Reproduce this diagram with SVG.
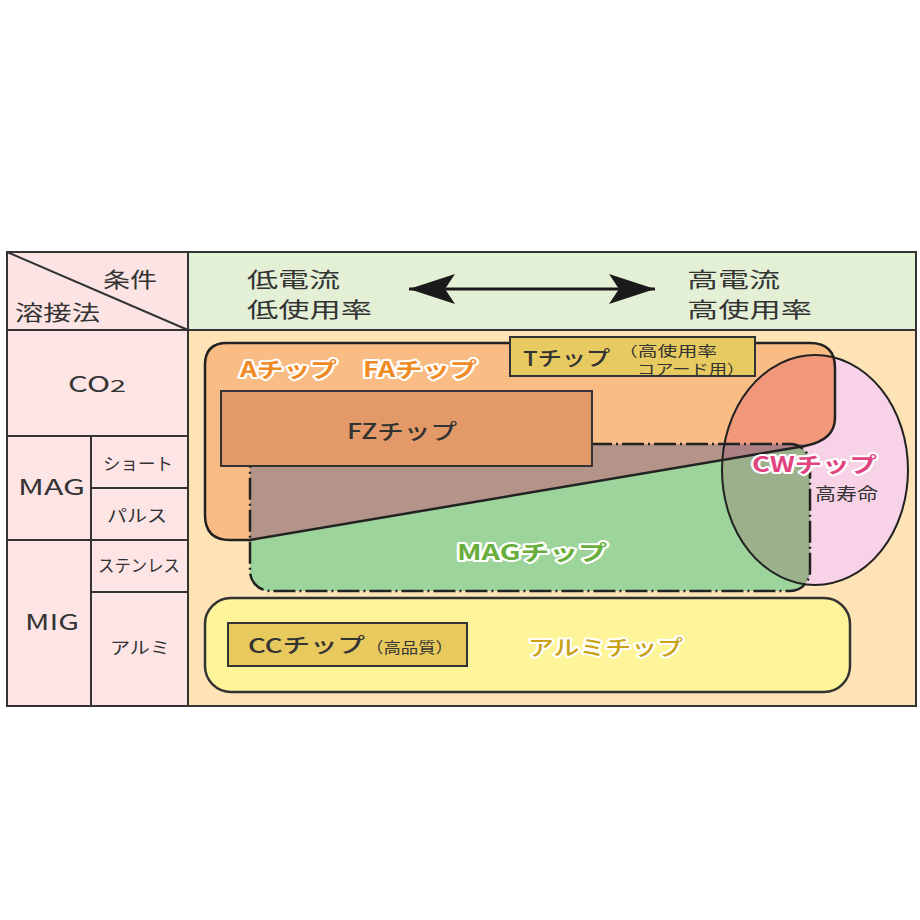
<svg xmlns="http://www.w3.org/2000/svg" width="920" height="920" viewBox="0 0 920 920">
<defs>
<style>
text{font-family:"Noto Sans CJK JP","Liberation Sans",sans-serif;fill:#333;}
.hd{font-size:21px;}
.lc{font-size:22px;}
.sm{font-size:17px;}
.chip{font-weight:bold;font-size:21px;}
.halo{paint-order:stroke;stroke:#fff;stroke-width:4px;stroke-linejoin:round;}
.ln{stroke:#333;stroke-width:2;fill:none;}
.out{stroke:#222;stroke-width:2.5;fill:none;}
</style>
<path id="aShape" d="M227,343 H810 Q835,343 835,368 V418 Q835,440 805,446 L250,540 H230 Q205,540 205,515 V365 Q205,343 227,343 Z"/>
<clipPath id="ellClip"><ellipse cx="815" cy="470" rx="93" ry="115"/></clipPath>
<marker id="ah" viewBox="-48 -16 50 32" markerWidth="50" markerHeight="32" refX="0" refY="0" orient="auto-start-reverse" markerUnits="userSpaceOnUse">
<path d="M0,0 L-46,-15 L-36,0 L-46,15 Z" fill="#1a1a1a"/>
</marker>
</defs>
<rect width="920" height="920" fill="#fff"/>
<g id="table">
<rect x="7" y="252" width="181" height="78" fill="#FCE4E4"/>
<rect x="188" y="252" width="728" height="78" fill="#E3F0D5"/>
<rect x="7" y="330" width="181" height="376" fill="#FDE5E6"/>
<rect x="188" y="330" width="728" height="376" fill="#FDE3B6"/>
<line class="ln" x1="7" y1="252" x2="188" y2="330"/>
<line class="ln" x1="7" y1="330" x2="916" y2="330"/>
<line class="ln" x1="188" y1="252" x2="188" y2="706"/>
<line class="ln" x1="7" y1="436" x2="188" y2="436"/>
<line class="ln" x1="7" y1="540" x2="188" y2="540"/>
<line class="ln" x1="91" y1="488" x2="188" y2="488"/>
<line class="ln" x1="91" y1="592" x2="188" y2="592"/>
<line class="ln" x1="91" y1="436" x2="91" y2="706"/>
<rect class="ln" x="7" y="252" width="909" height="454"/>
<text class="hd" x="103" y="287" textLength="54" lengthAdjust="spacingAndGlyphs">条件</text>
<text class="hd" x="15" y="320" textLength="85" lengthAdjust="spacingAndGlyphs">溶接法</text>
<text class="hd" x="247" y="287" textLength="93" lengthAdjust="spacingAndGlyphs">低電流</text>
<text class="hd" x="247" y="317" textLength="125" lengthAdjust="spacingAndGlyphs">低使用率</text>
<text class="hd" x="687" y="287" textLength="93" lengthAdjust="spacingAndGlyphs">高電流</text>
<text class="hd" x="687" y="317" textLength="125" lengthAdjust="spacingAndGlyphs">高使用率</text>
<text class="lc" x="68" y="392" textLength="42" lengthAdjust="spacingAndGlyphs">CO</text>
<text x="110" y="392" style="font-size:17px" textLength="16" lengthAdjust="spacingAndGlyphs">2</text>
<text class="lc" x="18" y="495" textLength="67" lengthAdjust="spacingAndGlyphs">MAG</text>
<text class="lc" x="25" y="630" textLength="54" lengthAdjust="spacingAndGlyphs">MIG</text>
<text class="sm" x="103" y="470" textLength="70" lengthAdjust="spacingAndGlyphs">ショート</text>
<text class="sm" x="107" y="522" textLength="60" lengthAdjust="spacingAndGlyphs">パルス</text>
<text class="sm" x="98" y="572" textLength="82" lengthAdjust="spacingAndGlyphs">ステンレス</text>
<text class="sm" x="110" y="654" textLength="60" lengthAdjust="spacingAndGlyphs">アルミ</text>
</g>
<g id="connectors">
<line x1="409" y1="289" x2="655" y2="289" stroke="#1a1a1a" stroke-width="3" marker-start="url(#ah)" marker-end="url(#ah)"/>
</g>
<g id="a-chip">
<use href="#aShape" fill="#F9BC84"/>
</g>
<g id="mag-chip">
<rect x="250" y="444" width="560" height="147" rx="20" fill="#9CD49B"/>
<polygon points="250,444 812,444 805,446 250,540" fill="#B49489"/>
</g>
<g id="cw-chip">
<ellipse cx="815" cy="470" rx="93" ry="115" fill="#F8D2E6"/>
<g clip-path="url(#ellClip)">
<use href="#aShape" fill="#F1977A"/>
<rect x="250" y="444" width="560" height="147" rx="20" fill="#9BB08B"/>
<polygon points="250,444 812,444 805,446 250,540" fill="#AE8284"/>
</g>
<ellipse cx="815" cy="470" rx="93" ry="115" fill="none" stroke="#222" stroke-width="2"/>
</g>
<g id="outlines">
<rect x="250" y="444" width="560" height="147" rx="20" fill="none" stroke="#222" stroke-width="2.5" stroke-dasharray="22 4 2 4"/>
<use href="#aShape" class="out"/>
</g>
<g id="fz-chip">
<rect x="221" y="391" width="371" height="75" fill="#E39A68" stroke="#333" stroke-width="2"/>
<text x="347" y="439" style="font-size:21px;font-weight:500" textLength="110" lengthAdjust="spacingAndGlyphs">FZチップ</text>
</g>
<g id="t-chip">
<rect x="510" y="337" width="245" height="39" fill="#E8CB60" stroke="#333" stroke-width="2"/>
<text x="523" y="366" style="font-size:20px;font-weight:500" textLength="87" lengthAdjust="spacingAndGlyphs">Tチップ</text>
<text x="618" y="356" style="font-size:14px" textLength="99" lengthAdjust="spacingAndGlyphs">（高使用率</text>
<text x="637" y="374" style="font-size:14px" textLength="108" lengthAdjust="spacingAndGlyphs">コアード用）</text>
</g>
<g id="labels">
<text class="chip halo" x="752" y="472" style="fill:#E0457F" textLength="125" lengthAdjust="spacingAndGlyphs">CWチップ</text>
<text class="sm" x="815" y="500" textLength="63" lengthAdjust="spacingAndGlyphs">高寿命</text>
<text class="chip halo" x="240" y="377" style="fill:#F08A24" textLength="97" lengthAdjust="spacingAndGlyphs">Aチップ</text>
<text class="chip halo" x="363" y="377" style="fill:#F08A24" textLength="114" lengthAdjust="spacingAndGlyphs">FAチップ</text>
<text class="chip halo" x="457" y="560" style="fill:#69AE3C" textLength="150" lengthAdjust="spacingAndGlyphs">MAGチップ</text>
</g>
<g id="alumi-chip">
<rect x="205" y="598" width="645" height="94" rx="26" fill="#FEF59A" stroke="#333" stroke-width="2.5"/>
<text class="chip halo" x="528" y="655" style="fill:#C9A315;font-weight:500" textLength="155" lengthAdjust="spacingAndGlyphs">アルミチップ</text>
</g>
<g id="cc-chip">
<rect x="228" y="623" width="239" height="43" fill="#E8C95E" stroke="#333" stroke-width="2"/>
<text x="248" y="653" style="font-size:20px;font-weight:500" textLength="117" lengthAdjust="spacingAndGlyphs">CCチップ</text>
<text x="366" y="653" style="font-size:15px" textLength="87" lengthAdjust="spacingAndGlyphs">（高品質）</text>
</g>
</svg>
